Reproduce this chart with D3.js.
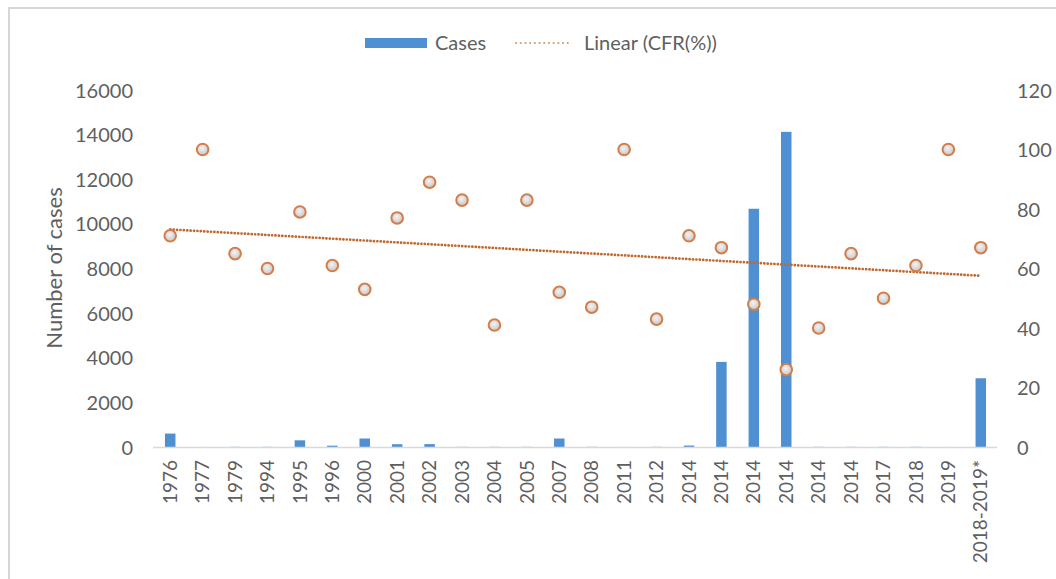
<!DOCTYPE html>
<html>
<head>
<meta charset="utf-8">
<script src="https://cdn.jsdelivr.net/npm/d3@7"></script>
<style>
  html, body { margin: 0; padding: 0; background: #fff; }
  svg { display: block; }
  text { font-family: Lato, "Open Sans", sans-serif; fill: #5f5f5f; }
</style>
</head>
<body>
<svg id="chart" width="1056" height="579"></svg>
<script>
// ---- data ----
const categories = ["1976","1977","1979","1994","1995","1996","2000","2001","2002","2003","2004","2005","2007","2008","2011","2012","2014","2014","2014","2014","2014","2014","2017","2018","2019","2018-2019*"];
const cases = [602, 1, 8, 8, 300, 60, 380, 125, 130, 8, 8, 8, 380, 8, 1, 8, 66, 3814, 10678, 14124, 8, 8, 8, 8, 1, 3080];
const cfr = [71, 100, 65, 60, 79, 61, 53, 77, 89, 83, 41, 83, 52, 47, 100, 43, 71, 67, 48, 26, 40, 65, 50, 61, 100, 67];
const leftTicks = [0, 2000, 4000, 6000, 8000, 10000, 12000, 14000, 16000];
const rightTicks = [0, 20, 40, 60, 80, 100, 120];
const legendLabels = ["Cases", "Linear (CFR(%))"];
const yTitle = "Number of cases";

// ---- layout ----
const svg = d3.select("#chart");
const plot = { left: 153, right: 997, top: 90, bottom: 447 };

// frame
svg.append("path")
  .attr("d", `M9,579 V8 H1056`)
  .attr("fill", "none").attr("stroke", "#d6d6d6").attr("stroke-width", 2);

const x = d3.scaleBand().domain(d3.range(categories.length))
  .range([plot.left + 1, plot.right]).paddingInner(0).paddingOuter(0);
const yL = d3.scaleLinear().domain([0, 16000]).range([plot.bottom, plot.top]);
const yR = d3.scaleLinear().domain([0, 120]).range([plot.bottom, plot.top]);

// bars
const barW = 10.5;
svg.append("g").selectAll("rect").data(cases).join("rect")
  .attr("x", (d, i) => x(i) + x.bandwidth() / 2 - barW / 2)
  .attr("width", barW)
  .attr("y", d => yL(d))
  .attr("height", d => yL(0) - yL(d))
  .attr("fill", "#4f90d2");

// x axis line
svg.append("line")
  .attr("x1", plot.left).attr("x2", plot.right)
  .attr("y1", plot.bottom + 0.5).attr("y2", plot.bottom + 0.5)
  .attr("stroke", "#d9d9d9").attr("stroke-width", 1.5);

const tickFont = 20;

// left axis
const leftAxis = d3.axisLeft(yL).tickValues(leftTicks).tickSize(0).tickPadding(0).tickFormat(d3.format("d"));
const gL = svg.append("g").attr("transform", `translate(133,0)`).call(leftAxis);
gL.select(".domain").remove();
gL.selectAll("text").attr("font-size", tickFont).attr("font-family", "Lato, sans-serif").attr("fill", "#5f5f5f").attr("dy", "0.35em");

// right axis
const rightAxis = d3.axisRight(yR).tickValues(rightTicks).tickSize(0).tickPadding(0).tickFormat(d3.format("d"));
const gR = svg.append("g").attr("transform", `translate(1017,0)`).call(rightAxis);
gR.select(".domain").remove();
gR.selectAll("text").attr("font-size", tickFont).attr("font-family", "Lato, sans-serif").attr("fill", "#5f5f5f").attr("dy", "0.35em");

// x labels (rotated)
const bottomAxis = d3.axisBottom(x).tickSize(0).tickFormat(i => categories[i]);
const gB = svg.append("g").attr("transform", `translate(0,${plot.bottom})`).call(bottomAxis);
gB.select(".domain").remove();
gB.selectAll("text")
  .attr("font-size", 19).attr("font-family", "Lato, sans-serif").attr("fill", "#5f5f5f")
  .attr("text-anchor", "end")
  .attr("transform", "rotate(-90)")
  .attr("x", -13).attr("y", 0).attr("dy", "0.35em");

// y title
svg.append("text")
  .attr("transform", `translate(62,268) rotate(-90)`)
  .attr("text-anchor", "middle")
  .attr("font-size", 22)
  .text(yTitle);

// linear trend of CFR
const n = cfr.length;
const xs = d3.range(1, n + 1);
const mx = d3.mean(xs), my = d3.mean(cfr);
const slope = d3.sum(xs, (v, i) => (v - mx) * (cfr[i] - my)) / d3.sum(xs, v => (v - mx) * (v - mx));
const intercept = my - slope * mx;
const trend = xs.map(v => intercept + slope * v);
const cx = i => x(i) + x.bandwidth() / 2;
svg.append("path")
  .datum(trend)
  .attr("d", d3.line().x((d, i) => cx(i)).y(d => yR(d)))
  .attr("fill", "none")
  .attr("stroke", "#c0692f")
  .attr("stroke-width", 2.7)
  .attr("stroke-linecap", "round")
  .attr("stroke-dasharray", "0.1 3.3");

// points
const defs = svg.append("defs");
const grad = defs.append("radialGradient").attr("id", "ptfill").attr("cx", "45%").attr("cy", "40%").attr("r", "60%");
grad.append("stop").attr("offset", "0%").attr("stop-color", "#f2f2f4");
grad.append("stop").attr("offset", "100%").attr("stop-color", "#c9c6c8");
svg.append("g").selectAll("circle").data(cfr).join("circle")
  .attr("cx", (d, i) => cx(i))
  .attr("cy", d => yR(d))
  .attr("r", 5.8)
  .attr("fill", "url(#ptfill)")
  .attr("stroke", "#d27e4a")
  .attr("stroke-width", 2);

// legend
const lg = svg.append("g");
lg.append("rect").attr("x", 365).attr("y", 38).attr("width", 62).attr("height", 10).attr("fill", "#4f90d2");
lg.append("text").attr("x", 435).attr("y", 43).attr("dy", "0.35em").attr("font-size", 20).text(legendLabels[0]);
lg.append("line").attr("x1", 516).attr("x2", 570).attr("y1", 43).attr("y2", 43)
  .attr("stroke", "#d3a07a").attr("stroke-width", 2.2).attr("stroke-linecap", "round").attr("stroke-dasharray", "0.1 4.6");
lg.append("text").attr("x", 584).attr("y", 43).attr("dy", "0.35em").attr("font-size", 20).text(legendLabels[1]);
</script>
</body>
</html>
